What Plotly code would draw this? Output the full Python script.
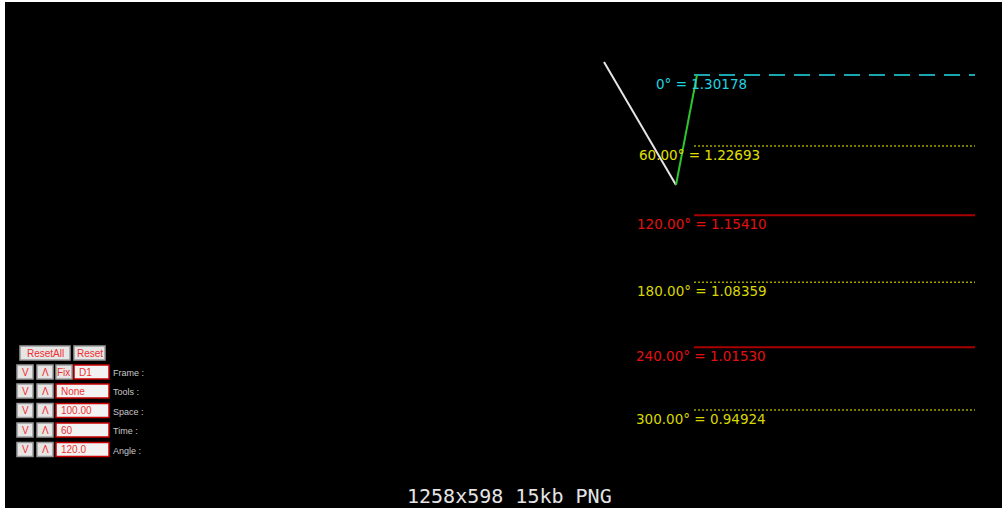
import plotly.graph_objects as go

# ---- data ----
level_angles = ["0°", "60.00°", "120.00°", "180.00°", "240.00°", "300.00°"]
level_values = [1.30178, 1.22693, 1.15410, 1.08359, 1.01530, 0.94924]
level_start = 694
level_end = 975

swing_x = [604, 676, 697]
swing_y = [1.31546, 1.18602, 1.30178]

row_labels = ["Frame :", "Tools :", "Space :", "Time :", "Angle :"]
row_values = ["D1", "None", "100.00", "60", "120.0"]

# ---- styles ----
line_colors = ["#1aa6ae", "#a3a300", "#a80000", "#a3a300", "#a80000", "#a3a300"]
text_colors = ["#22d4e0", "#e0e000", "#e41010", "#d8d800", "#e41010", "#d8d800"]
line_dash = ["16px,9px", "2px,2px", "solid", "2px,2px", "solid", "2px,2px"]
line_width = [2, 1.5, 2, 1.5, 2, 1.5]
label_x = [654, 637, 635, 635, 634, 634]

W, H = 1002, 508
Y_TOP = 1.30178 + 75 / 950.2
Y_BOT = 1.30178 - 433 / 950.2

fig = go.Figure()

# level lines
for i, v in enumerate(level_values):
    fig.add_trace(go.Scatter(
        x=[level_start, level_end], y=[v, v], mode="lines",
        line=dict(color=line_colors[i], width=line_width[i], dash=line_dash[i]),
        hoverinfo="skip", showlegend=False))

# zigzag
fig.add_trace(go.Scatter(x=swing_x[:2], y=swing_y[:2], mode="lines",
                         line=dict(color="#e6e6e6", width=2),
                         hoverinfo="skip", showlegend=False))
fig.add_trace(go.Scatter(x=swing_x[1:], y=swing_y[1:], mode="lines",
                         line=dict(color="#2ec42e", width=2),
                         hoverinfo="skip", showlegend=False))

annotations = []
for i, v in enumerate(level_values):
    annotations.append(dict(
        x=label_x[i], y=v, xref="x", yref="y", xanchor="left", yanchor="middle",
        yshift=-9, showarrow=False,
        text=f"{level_angles[i]} = {v:.5f}",
        font=dict(family="DejaVu Sans", size=13.5, color=text_colors[i])))

shapes = [
    # black screenshot area
    dict(type="rect", xref="paper", yref="paper", x0=5 / W, x1=1, y0=0, y1=1 - 2 / H,
         fillcolor="#000000", line=dict(width=0), layer="below"),
]


def px(x):
    return x / W


def py(y):
    return 1 - y / H


def button(x0, x1, yc, text, field=False, h=14):
    y0, y1 = yc - h / 2, yc + h / 2
    if field:
        shapes.append(dict(type="rect", xref="paper", yref="paper",
                           x0=px(x0), x1=px(x1), y0=py(y1), y1=py(y0),
                           fillcolor="#f2f2f2", line=dict(color="#c80000", width=1.5)))
        annotations.append(dict(x=px(x0 + 3), y=py(yc), xref="paper", yref="paper",
                                xanchor="left", yanchor="middle", showarrow=False,
                                text=text, font=dict(family="Arial", size=10, color="#f03030")))
    else:
        shapes.append(dict(type="rect", xref="paper", yref="paper",
                           x0=px(x0), x1=px(x1), y0=py(y1), y1=py(y0),
                           fillcolor="#e6e6e6", line=dict(color="#9a9a9a", width=1.5)))
        annotations.append(dict(x=px((x0 + x1) / 2), y=py(yc), xref="paper", yref="paper",
                                xanchor="center", yanchor="middle", showarrow=False,
                                text=text, font=dict(family="Arial", size=10, color="#f03030")))


button(20, 70, 353, "ResetAll")
button(74, 105, 353, "Reset")
row_y = [372, 391, 410.5, 430, 449.5]
for i, yc in enumerate(row_y):
    button(17, 33, yc, "V")
    button(37, 53, yc, "Λ")
    if i == 0:
        button(56, 72, yc, "Fix")
        button(74, 109, yc, row_values[i], field=True)
    else:
        button(56, 109, yc, row_values[i], field=True)
    annotations.append(dict(x=px(111), y=py(yc + 1), xref="paper", yref="paper",
                            xanchor="left", yanchor="middle", showarrow=False,
                            text=row_labels[i],
                            font=dict(family="Arial", size=9, color="#c8c8c8")))

annotations.append(dict(x=px(509), y=py(496), xref="paper", yref="paper",
                        xanchor="center", yanchor="middle", showarrow=False,
                        text="1258x598 15kb PNG",
                        font=dict(family="DejaVu Sans Mono", size=20, color="#e4e4e4")))

fig.update_layout(
    width=W, height=H, margin=dict(l=0, r=0, t=0, b=0),
    paper_bgcolor="#ffffff", plot_bgcolor="rgba(0,0,0,0)",
    xaxis=dict(range=[0, W], visible=False, fixedrange=True),
    yaxis=dict(range=[Y_BOT, Y_TOP], visible=False, fixedrange=True),
    shapes=shapes, annotations=annotations, showlegend=False,
)

fig.write_html(
    "out.html",
    config={"displayModeBar": False},
    post_script="document.body.style.margin='0';document.body.style.overflow='hidden';",
)
